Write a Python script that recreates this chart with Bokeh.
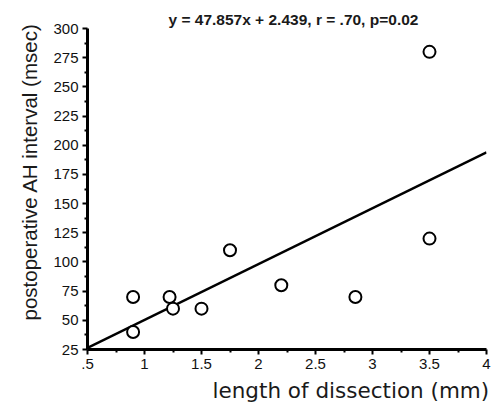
from bokeh.plotting import figure
from bokeh.models import FixedTicker, Range1d, Title
from bokeh.embed import file_html
from bokeh.resources import INLINE

# data
length_mm = [0.9, 0.9, 1.22, 1.25, 1.5, 1.75, 2.2, 2.85, 3.5, 3.5]
ah_msec = [70, 40, 70, 60, 60, 110, 80, 70, 120, 280]
slope = 47.857
intercept = 2.439
fit_x = [0.5, 4.0]
x_ticks = [0.5, 1, 1.5, 2, 2.5, 3, 3.5, 4]
x_minor = [0.75, 1.25, 1.75, 2.25, 2.75, 3.25, 3.75]
y_ticks = [25, 50, 75, 100, 125, 150, 175, 200, 225, 250, 275, 300]
y_minor = [37.5, 62.5, 87.5, 112.5, 137.5, 162.5, 187.5, 212.5, 237.5, 262.5, 287.5]
title_text = "y = 47.857x + 2.439, r = .70, p=0.02"
x_label = "length of dissection (mm)"
y_label = "postoperative AH interval (msec)"

p = figure(width=495, height=407, output_backend="svg", toolbar_location=None,
           x_range=Range1d(0.5, 4.0), y_range=Range1d(25, 300),
           min_border_left=87, min_border_right=9, min_border_top=28, min_border_bottom=58)
p.outline_line_color = None
p.grid.visible = False
p.background_fill_color = "white"

fit_y = [slope * v + intercept for v in fit_x]
p.line(fit_x, fit_y, line_color="black", line_width=2.4)
p.scatter(length_mm, ah_msec, marker="circle", size=12, fill_color="white",
          line_color="black", line_width=2)

for ax, ticks, minor in ((p.xaxis[0], x_ticks, x_minor), (p.yaxis[0], y_ticks, y_minor)):
    ax.ticker = FixedTicker(ticks=ticks, minor_ticks=minor)
    ax.axis_line_width = 3
    ax.axis_line_color = "black"
    ax.major_tick_line_width = 2
    ax.minor_tick_line_width = 2
    ax.major_tick_in = 0
    ax.major_tick_out = 5
    ax.minor_tick_in = 0
    ax.minor_tick_out = 3
    ax.major_label_text_font = "Liberation Sans"
    ax.major_label_text_font_size = "15px"
    ax.major_label_text_color = "#111111"
    ax.major_label_standoff = 4

p.xaxis[0].major_label_overrides = {0.5: ".5", 1: "1", 1.5: "1.5", 2: "2", 2.5: "2.5",
                                    3: "3", 3.5: "3.5", 4: "4"}

p.add_layout(Title(text=title_text, align="left", offset=81, standoff=1,
                   text_font="Liberation Sans", text_font_size="15.5px",
                   text_font_style="bold", text_color="#1a1a1a"), "above")
p.add_layout(Title(text=y_label, align="left", offset=29, standoff=19,
                   text_font="Liberation Sans", text_font_size="20.5px",
                   text_font_style="normal", text_color="#1a1a1a"), "left")
p.add_layout(Title(text=x_label, align="left", offset=125, standoff=9,
                   text_line_height=1.0,
                   text_font="DejaVu Sans", text_font_size="21.5px",
                   text_font_style="normal", text_color="#1a1a1a"), "below")

open("out.html", "w").write(file_html(p, INLINE))
